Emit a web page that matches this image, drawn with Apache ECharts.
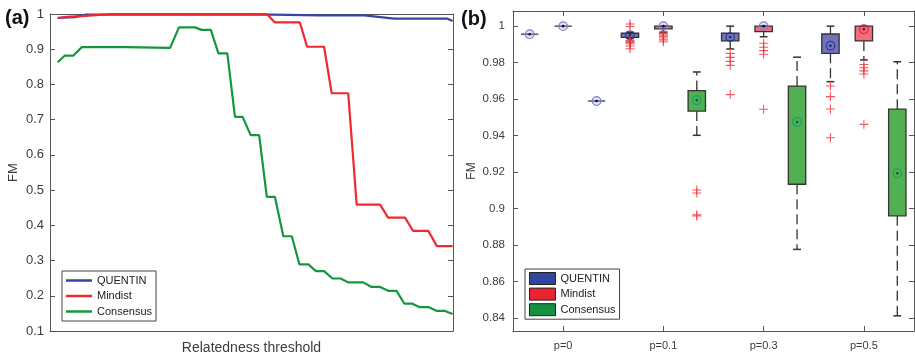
<!DOCTYPE html>
<html>
<head>
<meta charset="utf-8">
<script src="https://cdn.jsdelivr.net/npm/echarts@6/dist/echarts.min.js"></script>
<style>
  html, body { margin: 0; padding: 0; background: #fff; }
  #main { width: 915px; height: 354px; }
</style>
</head>
<body>
<div id="main"></div>
<script>
const methods = ['QUENTIN', 'Mindist', 'Consensus'];
const groups = ['p=0', 'p=0.1', 'p=0.3', 'p=0.5'];
const yTicksB = [0.84, 0.86, 0.88, 0.9, 0.92, 0.94, 0.96, 0.98, 1];

// (a) FM against relatedness threshold
const thrQuentin = [0.019, 0.062, 0.087, 0.55, 0.67, 0.78, 0.854, 0.985, 0.999];
const fmQuentin = [0.989, 0.991, 0.998, 0.998, 0.996, 0.996, 0.987, 0.987, 0.980];
const thrMindist = [0.019, 0.041, 0.079, 0.157, 0.538, 0.558, 0.620, 0.638, 0.680, 0.699,
  0.740, 0.761, 0.819, 0.839, 0.881, 0.901, 0.939, 0.960, 0.999];
const fmMindist = [0.988, 0.992, 0.994, 1.0, 1.0, 0.976, 0.976, 0.907, 0.907, 0.775,
  0.775, 0.459, 0.459, 0.422, 0.422, 0.384, 0.384, 0.341, 0.341];
const thrConsensus = [0.019, 0.037, 0.058, 0.079, 0.190, 0.298, 0.320, 0.360, 0.376, 0.399,
  0.418, 0.440, 0.459, 0.478, 0.498, 0.519, 0.538, 0.558, 0.579, 0.600,
  0.619, 0.641, 0.660, 0.680, 0.701, 0.721, 0.740, 0.777, 0.798, 0.819,
  0.839, 0.860, 0.879, 0.898, 0.916, 0.939, 0.960, 0.980, 0.999];
const fmConsensus = [0.863, 0.882, 0.882, 0.906, 0.906, 0.904, 0.962, 0.962, 0.955, 0.955,
  0.888, 0.888, 0.708, 0.708, 0.656, 0.656, 0.481, 0.481, 0.369, 0.369,
  0.289, 0.289, 0.270, 0.270, 0.249, 0.249, 0.238, 0.238, 0.225, 0.225,
  0.214, 0.214, 0.178, 0.178, 0.168, 0.168, 0.157, 0.157, 0.148];

// (b) per group: [lower whisker, q1, median, q3, upper whisker]
const boxQuentin = [
  [0.9956, 0.9956, 0.9956, 0.9956, 0.9956],
  [0.9933, 0.9939, 0.9950, 0.9961, 0.9966],
  [0.9875, 0.9919, 0.9940, 0.9961, 1.0],
  [0.9696, 0.9851, 0.9893, 0.9957, 1.0]
];
const boxMindist = [
  [1.0, 1.0, 1.0, 1.0, 1.0],
  [0.9967, 0.9985, 1.0, 1.0, 1.0],
  [0.9942, 0.9970, 1.0, 1.0, 1.0],
  [0.9815, 0.9919, 0.9983, 1.0, 1.0]
];
const boxConsensus = [
  [0.9590, 0.9590, 0.9590, 0.9590, 0.9590],
  [0.9402, 0.9535, 0.9594, 0.9647, 0.9749],
  [0.8777, 0.9134, 0.9475, 0.9672, 0.9830],
  [0.8413, 0.8961, 0.9194, 0.9545, 0.9805]
];
// outliers per group
const outQuentin = [[], [1.0012, 0.9998, 0.9922, 0.9916, 0.9910, 0.9904, 0.9891, 0.9876],
  [0.9851, 0.9829, 0.9807, 0.9785, 0.9625], [0.9672, 0.9614, 0.9546, 0.9389]];
const outMindist = [[], [0.9968, 0.9960, 0.9952, 0.9944, 0.9935, 0.9925, 0.9915],
  [0.9906, 0.9884, 0.9866, 0.9846, 0.9545], [0.9790, 0.9772, 0.9755, 0.9738, 0.9462]];
const outConsensus = [[], [0.9102, 0.9086, 0.8966, 0.8960], [], []];

const font = 'Liberation Sans, Arial, sans-serif';
const lineColors = ['#3545a2', '#f0292f', '#14973c'];
const legendColors = ['#2f45a0', '#e8252e', '#139040'];
const boxFills = ['#7373bc', '#f26e7a', '#52b052'];
const ringColors = ['#2a3896', '#e0284a', '#12a070'];
const dotColors = ['#1a237e', '#8b0010', '#0b5d25'];
const axisColor = '#555';
const labelColor = '#3c3c3c';

const slotLabels = groups.flatMap(g => ['', g, '']);
const boxSets = [boxQuentin, boxMindist, boxConsensus];
const outSets = [outQuentin, outMindist, outConsensus];
const lineSets = [[thrQuentin, fmQuentin], [thrMindist, fmMindist], [thrConsensus, fmConsensus]];

function renderBox(m) {
  return function (params, api) {
    const x = api.value(0);
    const lo = api.coord([x, api.value(1)]);
    const q1 = api.coord([x, api.value(2)]);
    const md = api.coord([x, api.value(3)]);
    const q3 = api.coord([x, api.value(4)]);
    const hi = api.coord([x, api.value(5)]);
    const cx = md[0];
    const bw = api.size([1, 0])[0] * 0.52;
    const cw = bw * 0.45;
    const ink = '#333';
    const flat = api.value(2) === api.value(4);
    const children = [];
    if (flat) {
      children.push({ type: 'line', shape: { x1: cx - bw / 2, y1: md[1], x2: cx + bw / 2, y2: md[1] },
        style: { stroke: '#555', lineWidth: 1.5 } });
    } else {
      children.push(
        { type: 'line', shape: { x1: cx, y1: q3[1], x2: cx, y2: hi[1] }, style: { stroke: ink, lineWidth: 1.3, lineDash: [10, 5] } },
        { type: 'line', shape: { x1: cx, y1: q1[1], x2: cx, y2: lo[1] }, style: { stroke: ink, lineWidth: 1.3, lineDash: [10, 5] } },
        { type: 'line', shape: { x1: cx - cw / 2, y1: hi[1], x2: cx + cw / 2, y2: hi[1] }, style: { stroke: ink, lineWidth: 1.5 } },
        { type: 'line', shape: { x1: cx - cw / 2, y1: lo[1], x2: cx + cw / 2, y2: lo[1] }, style: { stroke: ink, lineWidth: 1.5 } },
        { type: 'rect', shape: { x: cx - bw / 2, y: q3[1], width: bw, height: q1[1] - q3[1] },
          style: { fill: boxFills[m], stroke: ink, lineWidth: 1.3 } }
      );
    }
    const onEdge = flat || api.value(3) >= api.value(4);
    children.push({ type: 'circle', shape: { cx: cx, cy: md[1], r: 4.3 },
      style: { fill: onEdge ? 'rgba(140,140,230,0.25)' : 'none', stroke: onEdge ? '#7c7cd6' : ringColors[m], lineWidth: 1.2 } });
    children.push({ type: 'circle', shape: { cx: cx, cy: md[1], r: 1.3 },
      style: { fill: onEdge ? '#111' : dotColors[m] } });
    return { type: 'group', children: children };
  };
}

const series = [];
methods.forEach((name, m) => {
  series.push({
    name: name,
    type: 'line',
    xAxisIndex: 0,
    yAxisIndex: 0,
    symbol: 'none',
    lineStyle: { color: lineColors[m], width: 2.2 },
    itemStyle: { color: lineColors[m] },
    data: lineSets[m][0].map((t, i) => [t, lineSets[m][1][i]])
  });
});
methods.forEach((name, m) => {
  series.push({
    name: name,
    type: 'custom',
    xAxisIndex: 2,
    yAxisIndex: 2,
    itemStyle: { color: boxFills[m] },
    renderItem: renderBox(m),
    encode: { x: 0, y: [1, 2, 3, 4, 5] },
    data: boxSets[m].map((b, g) => [g * 3 + m].concat(b)),
    z: 2
  });
});
const outlierData = [];
outSets.forEach((set, m) => set.forEach((vals, g) => vals.forEach(v => outlierData.push([g * 3 + m, v]))));
series.push({
  name: 'outliers',
  type: 'scatter',
  xAxisIndex: 2,
  yAxisIndex: 2,
  symbol: 'path://M0,4.4H10V5.6H0ZM4.4,0H5.6V10H4.4Z',
  symbolSize: 9,
  itemStyle: { color: '#f0303a' },
  data: outlierData,
  z: 3
});

function ticks(extra) {
  return Object.assign({ show: true, inside: true, length: 5, lineStyle: { color: axisColor, width: 1 } }, extra || {});
}
const lineAxis = { show: true, onZero: false, lineStyle: { color: axisColor, width: 1 } };
const catTickFilter = (i, v) => v !== '';

const option = {
  backgroundColor: '#ffffff',
  animation: false,
  textStyle: { fontFamily: font },
  title: [
    { text: '(a)', left: 5, top: 8, padding: 0, textStyle: { fontSize: 20, fontWeight: 'bold', color: '#111', fontFamily: font } },
    { text: '(b)', left: 461, top: 9, padding: 0, textStyle: { fontSize: 20, fontWeight: 'bold', color: '#111', fontFamily: font } }
  ],
  grid: [
    { left: 50, top: 14, width: 403, height: 317, outerBoundsMode: 'none' },
    { left: 513, top: 11, width: 401, height: 320, outerBoundsMode: 'none' }
  ],
  legend: [
    {
      orient: 'vertical', left: 62, top: 271, icon: 'rect',
      itemWidth: 26, itemHeight: 2.5, itemGap: 2.5,
      padding: [3, 4, 3, 4], borderColor: '#444', borderWidth: 1, backgroundColor: '#fff',
      selectedMode: false,
      textStyle: { fontSize: 11, lineHeight: 13, color: '#222', fontFamily: font },
      data: methods.map((n, i) => ({ name: n, itemStyle: { color: lineColors[i], borderWidth: 0 } }))
    },
    {
      orient: 'vertical', left: 525, top: 269, icon: 'rect',
      itemWidth: 26, itemHeight: 12, itemGap: 2.6,
      padding: [3, 4, 3, 4], borderColor: '#444', borderWidth: 1, backgroundColor: '#fff',
      selectedMode: false,
      textStyle: { fontSize: 11, lineHeight: 13, color: '#222', fontFamily: font },
      data: methods.map((n, i) => ({ name: n, itemStyle: { color: legendColors[i], borderColor: '#222', borderWidth: 1 } }))
    }
  ],
  xAxis: [
    {
      gridIndex: 0, type: 'value', min: 0, max: 1,
      name: 'Relatedness threshold', nameLocation: 'middle', nameGap: 10,
      nameTextStyle: { fontSize: 14, color: labelColor, fontFamily: font },
      axisLine: lineAxis, axisTick: { show: false }, axisLabel: { show: false }, splitLine: { show: false }
    },
    {
      gridIndex: 0, type: 'value', position: 'top', min: 0, max: 1,
      axisLine: lineAxis, axisTick: { show: false }, axisLabel: { show: false }, splitLine: { show: false }
    },
    {
      gridIndex: 1, type: 'category', data: slotLabels, boundaryGap: true,
      axisLine: lineAxis,
      axisTick: ticks({ alignWithLabel: true, interval: catTickFilter }),
      axisLabel: { show: true, interval: 0, margin: 9, fontSize: 11, color: labelColor, fontFamily: font },
      splitLine: { show: false }
    },
    {
      gridIndex: 1, type: 'category', data: slotLabels, boundaryGap: true, position: 'top',
      axisLine: lineAxis,
      axisTick: ticks({ alignWithLabel: true, interval: catTickFilter }),
      axisLabel: { show: false }, splitLine: { show: false }
    }
  ],
  yAxis: [
    {
      gridIndex: 0, type: 'value', min: 0.1, max: 1, interval: 0.1,
      name: 'FM', nameLocation: 'middle', nameGap: 30,
      nameTextStyle: { fontSize: 13, color: labelColor, fontFamily: font },
      axisLine: lineAxis, axisTick: ticks(),
      axisLabel: { show: true, margin: 6, fontSize: 13, color: labelColor, fontFamily: font },
      splitLine: { show: false }
    },
    {
      gridIndex: 0, type: 'value', position: 'right', min: 0.1, max: 1, interval: 0.1,
      axisLine: lineAxis, axisTick: ticks(), axisLabel: { show: false }, splitLine: { show: false }
    },
    {
      gridIndex: 1, type: 'value', min: 0.833, max: 1.0083,
      name: 'FM', nameLocation: 'middle', nameGap: 35,
      nameTextStyle: { fontSize: 12, color: labelColor, fontFamily: font },
      axisLine: lineAxis,
      axisTick: ticks({ customValues: yTicksB }),
      axisLabel: { show: true, customValues: yTicksB, margin: 8, fontSize: 11.5, color: labelColor, fontFamily: font },
      splitLine: { show: false }
    },
    {
      gridIndex: 1, type: 'value', position: 'right', min: 0.833, max: 1.0083,
      axisLine: lineAxis,
      axisTick: ticks({ customValues: yTicksB }),
      axisLabel: { show: false }, splitLine: { show: false }
    }
  ],
  series: series
};

const chart = echarts.init(document.getElementById('main'), null, { renderer: 'canvas' });
chart.setOption(option);
</script>
</body>
</html>
